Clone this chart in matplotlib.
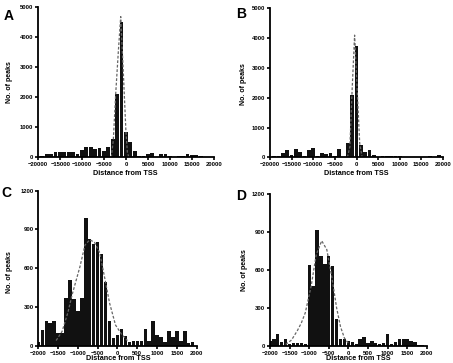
import numpy as np
import matplotlib
matplotlib.use("Agg")
import matplotlib.pyplot as plt

plt.rcParams['font.family'] = ['Liberation Sans', 'DejaVu Sans']
plt.rcParams['font.weight'] = 'bold'

W, H = 453, 363

# ---------------- data ----------------
# Panel A: bins of 1000 bp
a_centers = list(range(-19100, 19000, 1000))
a_counts = [50, 100, 100, 180, 180, 170, 170, 170, 120, 250, 340, 360, 280, 300, 220, 330, 600,
            2100, 4500, 850, 500, 200,
            40, 40, 100, 130, 20, 100, 100, 60, 20, 60, 30, 100, 70, 70, 60, 20, 0]
a_fit_x = [-3400, -2950, -2400, -1800, -1270, -700, -100, 250, 600]
a_fit_y = [0, 580, 2140, 3550, 4690, 2900, 910, 150, 0]

# Panel B: bins of 1000 bp
b_centers = list(range(-19000, 20000, 1000))
b_counts = [50, 50, 160, 250, 80, 280, 170, 60, 250, 320, 50, 140, 100, 130, 30, 280, 20,
            470, 2100, 3750, 400, 170, 250, 80, 10, 50, 30, 30, 30, 40, 20, 10, 20, 10, 10,
            20, 60, 20, 70]
b_fit_x = [-2100, -1530, -1000, -440, 150, 740, 1300]
b_fit_y = [0, 355, 2300, 4100, 2300, 470, 0]

# Panel C: bins of 100 bp
c_centers = list(range(-2000, 2001, 100))
c_counts = [30, 120, 190, 175, 195, 100, 95, 370, 505, 360, 270, 370, 985, 825, 790, 800, 710,
            495, 195, 60, 80, 130, 75, 30, 40, 40, 40, 130, 40, 195, 80, 65, 25, 115, 65, 115,
            40, 110, 20, 30, 0]
c_fit_x = [-1550, -1400, -1250, -1150, -1050, -950, -820, -700, -580, -450, -320, -200, -50, 100, 250]
c_fit_y = [40, 110, 260, 390, 500, 610, 780, 820, 800, 720, 520, 330, 160, 90, 40]

# Panel D: bins of 100 bp
d_centers = list(range(-2000, 2001, 100))
d_counts = [40, 55, 95, 30, 50, 15, 25, 20, 20, 15, 635, 470, 915, 710, 650, 710, 630, 210, 50,
            50, 35, 30, 10, 50, 65, 25, 35, 20, 15, 20, 95, 15, 30, 50, 50, 50, 35, 30, 5, 5, 0]
d_fit_x = [-1600, -1450, -1300, -1200, -1100, -950, -820, -680, -550, -420, -300, -200, -100, 0]
d_fit_y = [10, 45, 120, 180, 260, 470, 720, 830, 760, 540, 300, 150, 60, 20]

panels = [
    dict(letter='A', centers=a_centers, counts=a_counts, fx=a_fit_x, fy=a_fit_y, binw=1000,
         box=(38.3, 214.3, 7.3, 157.3), xlim=(-20000, 20000), xstep=5000, ylim=(0, 5000), ystep=1000,
         letter_xy=(9, 16), ylab_xy=(10, 82), xlab_xy=(125, 173)),
    dict(letter='B', centers=b_centers, counts=b_counts, fx=b_fit_x, fy=b_fit_y, binw=1000,
         box=(270, 443, 8.3, 157.3), xlim=(-20000, 20000), xstep=5000, ylim=(0, 5000), ystep=1000,
         letter_xy=(241, 14), ylab_xy=(243.5, 84), xlab_xy=(356, 173)),
    dict(letter='C', centers=c_centers, counts=c_counts, fx=c_fit_x, fy=c_fit_y, binw=100,
         box=(38.3, 196.7, 190.7, 345.7), xlim=(-2000, 2000), xstep=500, ylim=(0, 1200), ystep=300,
         letter_xy=(6, 193), ylab_xy=(10, 272), xlab_xy=(118, 358)),
    dict(letter='D', centers=d_centers, counts=d_counts, fx=d_fit_x, fy=d_fit_y, binw=100,
         box=(270, 426.7, 194, 345.7), xlim=(-2000, 2000), xstep=500, ylim=(0, 1200), ystep=300,
         letter_xy=(241, 196), ylab_xy=(245, 270), xlab_xy=(358, 358)),
]

fig = plt.figure(figsize=(W / 100, H / 100), dpi=100)

def fx(px):
    return px / W

def fy(py):
    return 1 - py / H

for p in panels:
    l, r, t, b = p['box']
    ax = fig.add_axes([fx(l), fy(b), (r - l) / W, (b - t) / H])
    ax.bar(p['centers'], p['counts'], width=p['binw'] * 0.85, color='#111111', edgecolor='none')
    ax.plot(p['fx'], p['fy'], linestyle=(0, (2.2, 1.4)), color='#666666', linewidth=0.9)
    ax.set_xlim(*p['xlim'])
    ax.set_ylim(*p['ylim'])
    ax.set_xticks(np.arange(p['xlim'][0], p['xlim'][1] + 1, p['xstep']))
    ax.set_yticks(np.arange(p['ylim'][0], p['ylim'][1] + 1, p['ystep']))
    for s in ['top', 'right']:
        ax.spines[s].set_visible(False)
    for s in ['left', 'bottom']:
        ax.spines[s].set_linewidth(1.3)
    ax.tick_params(direction='out', length=2.5, width=1.2, labelsize=4.2, pad=1)
    for lab in ax.get_xticklabels() + ax.get_yticklabels():
        lab.set_fontweight('bold')
    fig.text(fx(p['letter_xy'][0]), fy(p['letter_xy'][1]), p['letter'], fontsize=10,
             fontweight='bold', ha='center', va='center')
    fig.text(fx(p['ylab_xy'][0]), fy(p['ylab_xy'][1]), 'No. of peaks', fontsize=5,
             fontweight='bold', rotation=90, ha='center', va='center')
    fig.text(fx(p['xlab_xy'][0]), fy(p['xlab_xy'][1]), 'Distance from TSS', fontsize=5.2,
             fontweight='bold', ha='center', va='center')

fig.savefig('out.png', dpi=100)
